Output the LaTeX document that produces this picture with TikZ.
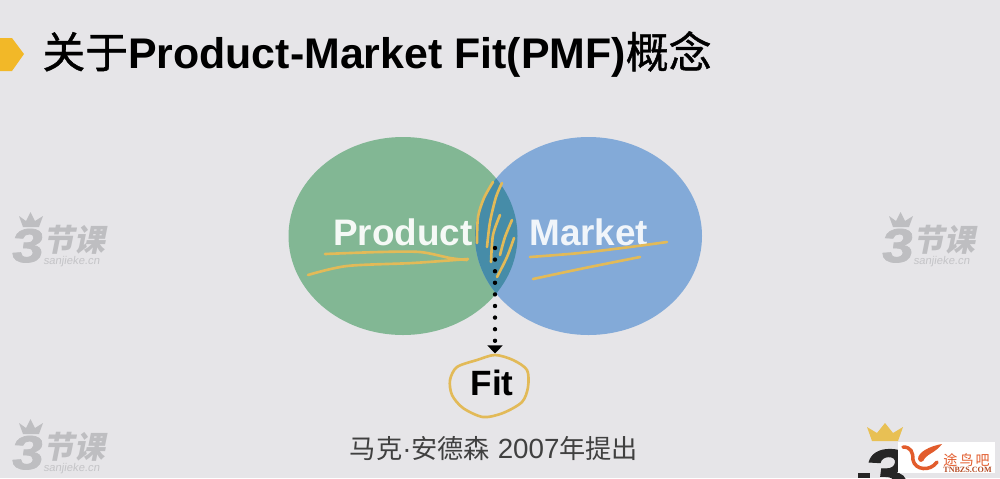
\documentclass[tikz,border=0pt]{standalone}
\usepackage{fontspec}
\usetikzlibrary{arrows.meta}
\setmainfont{Liberation Sans}
\newfontfamily\cjk{Noto Sans CJK SC}
\newfontfamily\titlecjk[FakeBold=1]{Noto Sans CJK SC}
\newfontfamily\markcjk[FakeSlant=0.2,BoldFeatures={FakeSlant=0.2}]{Noto Sans CJK SC}
\newfontfamily\markfont[BoldFeatures={FakeSlant=0.12,FakeStretch=1.2,FakeBold=1.5}]{Liberation Sans}
\newfontfamily\sitefont[FakeSlant=0.15]{Liberation Sans}
\newfontfamily\serif{Liberation Serif}
\definecolor{pagebg}{RGB}{230,229,232}
\definecolor{productgreen}{RGB}{130,183,148}
\definecolor{marketblue}{RGB}{131,170,216}
\definecolor{fitteal}{RGB}{70,140,168}
\definecolor{penyellow}{RGB}{226,186,88}
\definecolor{markgrey}{RGB}{190,190,193}
\definecolor{logored}{RGB}{226,92,44}
\definecolor{bulletyellow}{RGB}{242,184,40}
\definecolor{crowngold}{RGB}{232,192,84}
\tikzset{
	pen/.style={draw=penyellow, line width=1.5pt, line cap=round, line join=round},
	bigword/.style={anchor=base west, inner sep=0pt, text=white!92!productgreen, font=\bfseries\fontsize{21}{21}\selectfont},
	crown/.style={fill=#1, draw=none},
}
\begin{document}
\begin{tikzpicture}[x=0.02cm,y=-0.02cm]
	\clip (0,0) rectangle (1000,478);
	\fill[pagebg] (0,0) rectangle (1000,478);

	% watermarks
	\foreach \dx/\dy [count=\n] in {0/0, 0/207, 870/0} {
		\begin{scope}[shift={(\dx,\dy)}]
			\fill[crown=markgrey] (19,216) -- (26,221) -- (30.5,212) -- (35,221) -- (43,216) -- (39,227) -- (23,227) -- cycle;
			\node[anchor=base west, inner sep=0pt, text=markgrey, font=\markfont\bfseries\fontsize{27}{27}\selectfont] (three\n) at (10,262) {3};
			\node[anchor=base west, inner sep=0pt, text=markgrey, font=\markcjk\bfseries\fontsize{17.5}{17.5}\selectfont] (word\n) at (43,251) {节课};
			\node[anchor=base west, inner sep=0pt, text=markgrey!85!pagebg, font=\sitefont\fontsize{6.4}{6.4}\selectfont] (site\n) at (43,264) {sanjieke.cn};
		\end{scope}
	}

	% title
	\fill[fill=bulletyellow] (0,38) -- (12,38) -- (24,54) -- (12,71) -- (0,71) -- cycle;
	\node[anchor=base west, inner sep=0pt, font=\bfseries\fontsize{24.4}{24.4}\selectfont] (title) at (42,68) {{\titlecjk\mdseries 关于}Product-Market Fit(PMF){\titlecjk\mdseries 概念}};

	% circles
	\fill[productgreen] (403,236) ellipse [x radius=114.5, y radius=99];
	\fill[marketblue] (588.5,236) ellipse [x radius=113.5, y radius=99];
	\begin{scope}
		\clip (403,236) ellipse [x radius=114.5, y radius=99];
		\fill[fitteal] (588.5,236) ellipse [x radius=113.5, y radius=99];
	\end{scope}
	\node[bigword] (product) at (333,245) {Product};
	\node[bigword, text=white!88!marketblue] (market) at (529,245) {Market};

	% pen strokes
	\draw[pen] plot [smooth] coordinates {(325,254) (380,252) (420,252) (450,258) (467,260)};
	\draw[pen] plot [smooth] coordinates {(308,275) (347,266) (413,263) (468,259)};
	\draw[pen] plot [smooth] coordinates {(530,257) (580,253) (630,247) (667,242)};
	\draw[pen] plot [smooth] coordinates {(533,279) (580,269) (640,257)};
	\draw[pen] plot [smooth] coordinates {(477,243) (478,217) (484,198) (493,182)};
	\draw[pen] plot [smooth] coordinates {(487,247) (490,222) (496,197) (502,183)};
	\draw[pen] plot [smooth] coordinates {(491,262) (493,235) (500,215)};
	\draw[pen] plot [smooth] coordinates {(500,255) (505,237) (512,220)};
	\draw[pen] plot [smooth] coordinates {(497,277) (507,257) (514,238)};

	% fit label and arrow
	\node[anchor=base, inner sep=9pt, font=\bfseries\fontsize{20}{20}\selectfont] (fitlabel) at (492,395) {Fit};
	\coordinate (overlap) at (495,248);
	\draw[line width=2.5pt, dash pattern=on 0pt off 6.6pt, line cap=round, -{Triangle[width=8.5pt,length=4.5pt,line cap=butt]}] (overlap) -- (overlap |- fitlabel.north);
	\draw[pen] plot [smooth cycle] coordinates {(495,355) (513,360) (527,370) (528,387) (522,402) (503,413) (483,417) (463,408) (452,395) (450,380) (457,367) (477,360)};

	\node[anchor=base, inner sep=0pt, text=black!75, font=\fontsize{15.8}{15.8}\selectfont] (caption) at (494,458) {{\cjk\fontsize{14.9}{14.9}\selectfont 马克}·{\cjk\fontsize{14.9}{14.9}\selectfont 安德森} 2007{\cjk\fontsize{14.9}{14.9}\selectfont 年提出}};

	% corner logo
	\fill[crown=crowngold] (867,427) -- (877,433) -- (885,423) -- (893,433) -- (903,427) -- (898,441) -- (872,441) -- cycle;
	\node[anchor=base west, inner sep=0pt, text=black!85, font=\markfont\bfseries\fontsize{38}{38}\selectfont] (bigthree) at (862,496) {3};
	\fill[black!85] (858,473) rectangle (870,478);
	\fill[white] (898,442) rectangle (995,473);
	\draw[draw=logored, line width=2pt, line cap=round] (903,447) .. controls (911,447) and (913,452) .. (913,460) .. controls (915,470) and (930,472) .. (937,462);
	\fill[logored] (942,444) .. controls (930,446) and (918,452) .. (918,459) .. controls (919,463) and (923,463) .. (925,458) .. controls (928,454) and (936,452) .. (942,444) -- cycle;
	\node[anchor=base west, inner sep=0pt, text=logored, font=\cjk\fontsize{8}{8}\selectfont] (logoname) at (943,465) {途\hspace{1.2pt}鸟\hspace{1.2pt}吧};
	\node[anchor=base west, inner sep=0pt, text=logored!80!black, font=\serif\bfseries\fontsize{4.6}{4.6}\selectfont] (logosite) at (943,472) {TNBZS.COM};
\end{tikzpicture}
\end{document}
